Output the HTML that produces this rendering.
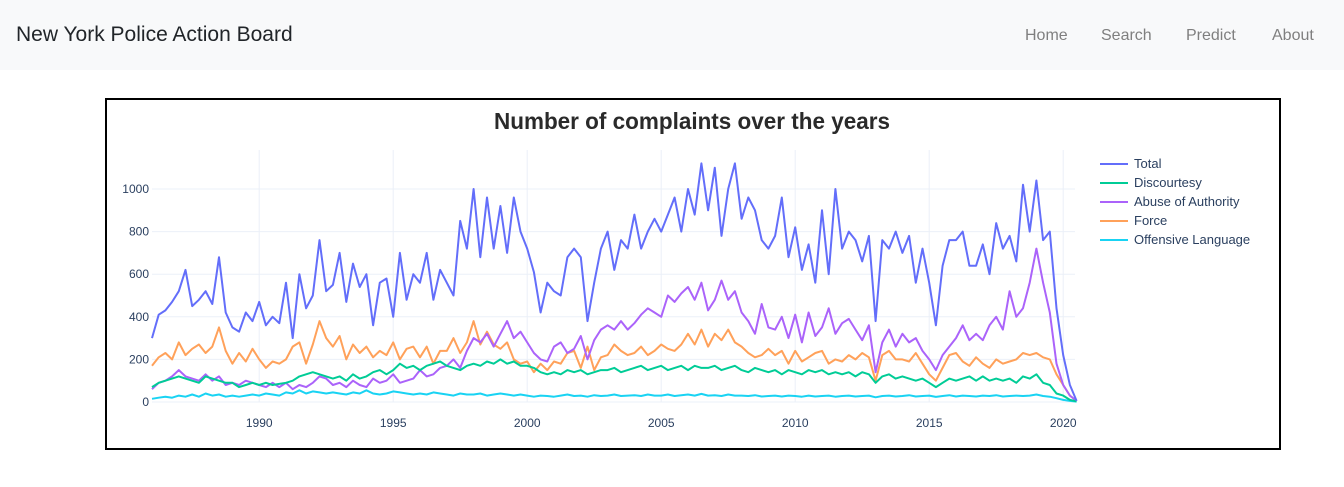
<!DOCTYPE html>
<html><head><meta charset="utf-8"><style>
body{margin:0;width:1344px;height:487px;background:#fff;font-family:"Liberation Sans",sans-serif;overflow:hidden;position:relative}
.nav{position:absolute;left:0;top:0;width:1344px;height:70px;background:#f8f9fa}
.brand{position:absolute;left:16px;top:23px;font-size:21px;color:#212529}
.lk{position:absolute;top:27px;font-size:16px;color:#7f7f7f}
.box{position:absolute;left:105px;top:98px;width:1172px;height:348px;border:2px solid #000}
</style></head><body>
<div class="nav">
<div class="brand">New York Police Action Board</div>
<div class="lk" style="left:1025px">Home</div>
<div class="lk" style="left:1101px">Search</div>
<div class="lk" style="left:1186px">Predict</div>
<div class="lk" style="left:1272px">About</div>
</div>
<div class="box"></div>
<svg id="chart" width="1344" height="487" style="position:absolute;left:0;top:0"></svg>
<script>
const startYear=1986, step=0.25;
const xTicks=[1990,1995,2000,2005,2010,2015,2020];
const yTicks=[0,200,400,600,800,1000];
const seriesNames=["Total","Discourtesy","Abuse of Authority","Force","Offensive Language"];
const seriesColors=["#636efa","#00cc96","#ab63fa","#FFA15A","#19d3f3"];
const total=[300,410,430,470,520,620,450,480,520,460,680,420,350,330,420,380,470,360,400,370,560,300,600,440,500,760,520,550,700,470,650,540,600,360,560,580,400,700,480,600,560,700,480,620,560,500,850,720,1000,680,960,720,920,700,960,800,720,610,420,560,520,500,680,720,680,380,560,720,800,620,760,720,880,720,800,860,800,880,960,800,1000,880,1120,900,1100,780,1000,1120,860,960,900,760,720,780,960,680,820,620,740,560,900,600,1000,720,800,760,660,780,380,760,720,800,700,780,560,720,560,360,640,760,760,800,640,640,740,600,840,720,780,660,1020,800,1040,760,800,440,220,80,5];
const discourtesy=[70,90,100,110,120,110,100,90,120,110,100,90,90,70,80,90,80,90,80,85,90,100,120,130,140,130,120,110,120,100,130,110,120,140,150,130,150,180,160,170,150,170,180,190,170,160,150,170,180,170,190,180,200,180,190,170,170,160,140,130,140,130,150,140,150,130,140,150,150,160,140,150,160,170,150,160,170,150,160,170,150,170,160,160,170,150,160,170,150,140,160,150,140,150,130,150,140,130,150,140,150,130,140,130,140,120,140,130,90,120,130,110,120,110,100,110,90,70,90,110,100,110,120,100,120,100,110,100,110,90,120,110,130,90,80,40,30,10,3];
const abuse=[60,90,100,120,150,120,110,100,130,100,120,80,90,80,100,90,80,70,90,70,90,60,80,70,90,120,110,80,90,70,100,80,70,110,90,100,130,90,100,110,150,120,130,160,170,200,160,240,300,280,320,260,320,380,300,330,280,230,200,190,260,280,230,250,310,200,290,340,360,340,380,340,370,410,440,420,400,500,470,510,540,480,560,430,480,570,480,520,420,380,320,460,350,340,400,300,410,280,420,310,350,440,320,370,390,340,290,360,140,280,340,260,320,280,300,240,200,150,220,260,300,360,290,320,290,360,400,340,520,400,440,560,720,560,420,180,80,30,5];
const force=[170,210,230,200,280,220,250,270,230,260,350,240,180,230,190,250,200,160,190,180,200,260,280,180,270,380,300,260,310,200,270,230,260,210,240,220,280,200,250,260,210,260,180,240,240,300,230,280,380,270,330,270,250,280,200,180,190,140,180,150,190,180,230,240,160,260,150,210,220,270,240,220,230,260,220,240,270,250,240,270,320,270,340,260,320,290,340,280,260,230,210,220,250,220,240,180,240,190,210,230,240,180,200,190,220,200,230,210,100,220,240,200,200,190,230,180,130,100,160,220,230,190,170,210,180,160,200,180,190,200,230,220,230,210,200,130,80,30,5];
const offensive=[15,20,25,20,30,25,35,25,40,30,35,25,30,25,30,35,30,40,35,30,45,40,55,40,50,45,40,45,40,35,45,40,55,40,35,40,50,45,40,35,40,35,45,40,35,30,40,35,35,40,30,35,40,35,30,35,30,25,30,28,25,30,35,28,30,25,32,28,30,35,28,30,32,28,35,30,30,35,28,32,35,30,38,30,32,28,35,30,30,28,32,26,28,30,26,30,28,25,30,26,28,30,25,28,30,26,28,30,22,28,30,26,28,32,26,28,30,24,28,32,26,30,28,26,30,28,32,26,28,30,28,30,35,28,25,18,10,5,2];
const data=[total,discourtesy,abuse,force,offensive];
const NS="http://www.w3.org/2000/svg";
const svg=document.getElementById("chart");
const X0=152,X1=1075,Y0=402,Y1=150;
const xs=y=>X0+(y-1986)*(1062-258)/30;
const ys=v=>Y0-v*(402-189)/1000;
function mk(t,a){const e=document.createElementNS(NS,t);for(const k in a)e.setAttribute(k,a[k]);svg.appendChild(e);return e;}
yTicks.forEach(v=>{
 const g=mk("line",{x1:X0,x2:X1,y1:ys(v),y2:ys(v),stroke:"#ebf0f8","stroke-width":1});
 
 
 const t=mk("text",{x:149,y:ys(v)+4,"text-anchor":"end","font-size":12,fill:"#2a3f5f","font-family":"Liberation Sans"});
 t.textContent=v;
 
 
});
xTicks.forEach(v=>{
 const g=mk("line",{x1:xs(v),x2:xs(v),y1:Y1,y2:Y0,stroke:"#ebf0f8","stroke-width":1});
 
 
 const t=mk("text",{x:xs(v),y:427,"text-anchor":"middle","font-size":12,fill:"#2a3f5f","font-family":"Liberation Sans"});
 t.textContent=v;
 
 
});
const title=mk("text",{x:692,y:129,"text-anchor":"middle","font-size":23,"font-weight":"bold",fill:"#2a2a2a","font-family":"Liberation Sans",textLength:396,lengthAdjust:"spacingAndGlyphs"});
title.textContent="Number of complaints over the years";


[4,3,2,1,0].forEach(si=>{
 const arr=data[si];
 const pts=arr.map((v,i)=>xs(startYear+i*step).toFixed(1)+","+ys(v).toFixed(1)).join(" ");
 const p=mk("polyline",{points:pts,fill:"none",stroke:seriesColors[si],"stroke-width":2,"stroke-linejoin":"round"});
 
 
});
seriesNames.forEach((n,i)=>{
 const y=164+i*19;
 const l=mk("line",{x1:1100,x2:1128,y1:y,y2:y,stroke:seriesColors[i],"stroke-width":2});
 
 
 const t=mk("text",{x:1134,y:y+4,"font-size":13,fill:"#2a3f5f","font-family":"Liberation Sans"});
 t.textContent=n;
 
 
});
</script>
</body></html>
